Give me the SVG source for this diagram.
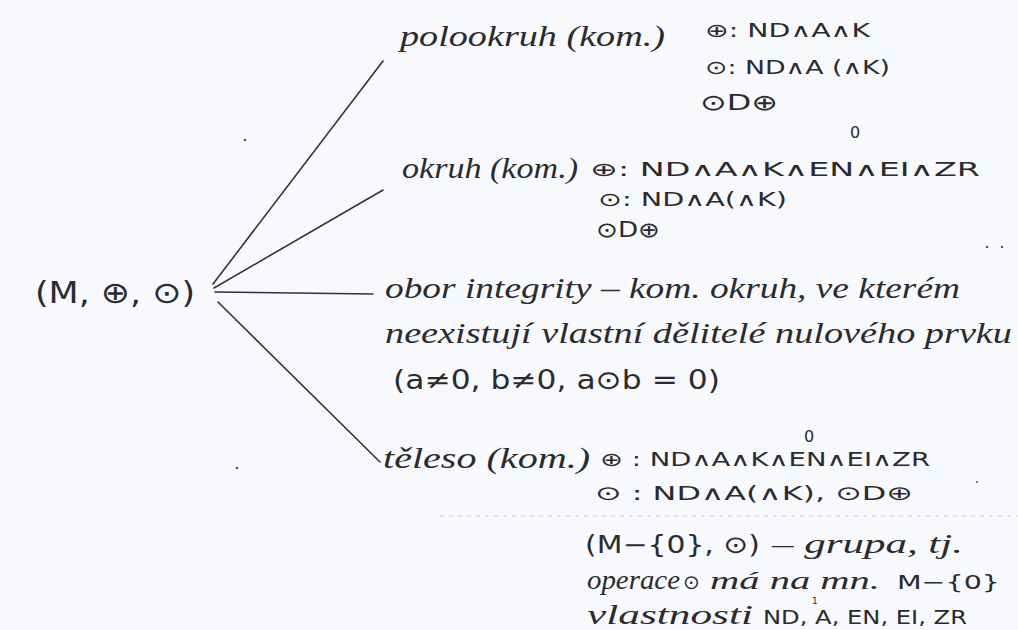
<svg xmlns="http://www.w3.org/2000/svg" width="1018" height="630" viewBox="0 0 1018 630">
<style>
.hw{font-family:"Liberation Serif","DejaVu Serif",serif;font-style:italic;fill:#2b2b2e;}
.fm{font-family:"DejaVu Sans","Liberation Sans",sans-serif;fill:#2b2b2e;}
.ln{stroke:#333336;stroke-width:1.6;fill:none;stroke-linecap:round;}
.speck{fill:#55555a;}
</style>
<rect width="1018" height="630" fill="#f8f9fd"/>
<line x1="440" y1="516" x2="1018" y2="516" stroke="#c9ccd6" stroke-width="1" stroke-dasharray="4 5"/>
<g id="connectors">
<line class="ln" x1="213" y1="284" x2="383" y2="61"/>
<line class="ln" x1="214" y1="288" x2="383" y2="190"/>
<line class="ln" x1="215" y1="292" x2="373" y2="294"/>
<line class="ln" x1="218" y1="302" x2="380" y2="462"/>
</g>
<g id="root">
<text class="fm" x="35" y="303" font-size="30" textLength="160" lengthAdjust="spacingAndGlyphs">(M, ⊕, ⊙)</text>
</g>
<g id="polookruh">
<text class="hw" x="400" y="46" font-size="30" textLength="265" lengthAdjust="spacingAndGlyphs">polookruh (kom.)</text>
<text class="fm" x="705" y="37" font-size="19" textLength="165" lengthAdjust="spacingAndGlyphs">⊕: ND∧A∧K</text>
<text class="fm" x="705" y="74" font-size="19" textLength="185" lengthAdjust="spacingAndGlyphs">⊙: ND∧A (∧K)</text>
<text class="fm" x="700" y="110" font-size="22" textLength="78" lengthAdjust="spacingAndGlyphs">⊙D⊕</text>
</g>
<g id="okruh">
<text class="hw" x="402" y="178" font-size="30" textLength="176" lengthAdjust="spacingAndGlyphs">okruh (kom.)</text>
<text class="fm" x="590" y="176" font-size="19" textLength="390" lengthAdjust="spacingAndGlyphs">⊕: ND∧A∧K∧EN∧EI∧ZR</text>
<text class="fm" x="850" y="138" font-size="16">0</text>
<text class="fm" x="598" y="206" font-size="19" textLength="189" lengthAdjust="spacingAndGlyphs">⊙: ND∧A(∧K)</text>
<text class="fm" x="596" y="237" font-size="21" textLength="64" lengthAdjust="spacingAndGlyphs">⊙D⊕</text>
</g>
<g id="obor">
<text class="hw" x="385" y="298" font-size="29" textLength="575" lengthAdjust="spacingAndGlyphs">obor integrity – kom. okruh, ve kterém</text>
<text class="hw" x="385" y="343" font-size="29" textLength="627" lengthAdjust="spacingAndGlyphs">neexistují vlastní dělitelé nulového prvku</text>
<text class="fm" x="393" y="389" font-size="26" textLength="327" lengthAdjust="spacingAndGlyphs">(a≠0, b≠0, a⊙b = 0)</text>
</g>
<g id="teleso">
<text class="hw" x="383" y="468" font-size="30" textLength="207" lengthAdjust="spacingAndGlyphs">těleso (kom.)</text>
<text class="fm" x="600" y="466" font-size="19" textLength="330" lengthAdjust="spacingAndGlyphs">⊕ : ND∧A∧K∧EN∧EI∧ZR</text>
<text class="fm" x="804" y="442" font-size="16">0</text>
<text class="fm" x="595" y="500" font-size="20" textLength="318" lengthAdjust="spacingAndGlyphs">⊙ : ND∧A(∧K), ⊙D⊕</text>
<text class="fm" x="585" y="553" font-size="24" textLength="175" lengthAdjust="spacingAndGlyphs">(M−{0}, ⊙)</text>
<text class="hw" x="772" y="553" font-size="28" textLength="191" lengthAdjust="spacingAndGlyphs">– grupa, tj.</text>
<text class="hw" x="587" y="589" font-size="27" textLength="93" lengthAdjust="spacingAndGlyphs">operace</text>
<text class="fm" x="683" y="589" font-size="20">⊙</text>
<text class="hw" x="710" y="589" font-size="26" textLength="170" lengthAdjust="spacingAndGlyphs">má na mn.</text>
<text class="fm" x="897" y="589" font-size="20" textLength="103" lengthAdjust="spacingAndGlyphs">M−{0}</text>
<text class="fm" x="812" y="604" font-size="9">1</text>
<text class="hw" x="587" y="624" font-size="28" textLength="166" lengthAdjust="spacingAndGlyphs">vlastnosti</text>
<text class="fm" x="763" y="624" font-size="19" textLength="204" lengthAdjust="spacingAndGlyphs">ND, A, EN, EI, ZR</text>
</g>
<g id="specks">
<circle class="speck" cx="245" cy="140" r="1.3"/>
<circle class="speck" cx="237" cy="468" r="1.3"/>
<circle class="speck" cx="987" cy="247" r="1.2"/>
<circle class="speck" cx="1002" cy="247" r="1.2"/>
<circle class="speck" cx="977" cy="482" r="1.1"/>
</g>
</svg>
